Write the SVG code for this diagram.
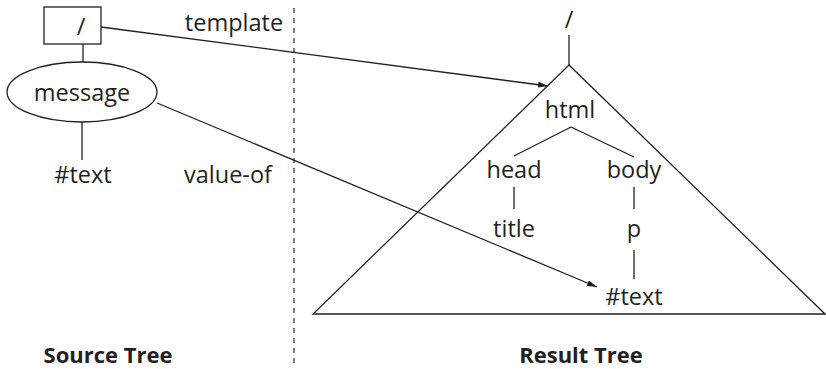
<svg xmlns="http://www.w3.org/2000/svg" width="826" height="369" viewBox="0 0 826 369">
<defs>
<style>
text{font-family:"Open Sans","Noto Sans","DejaVu Sans",sans-serif;font-size:23.5px;fill:#231f20;text-anchor:middle}
.b{font-weight:bold;font-size:22px}
.s{stroke:#231f20;stroke-width:1.3;fill:none}
.d{stroke:#555;stroke-width:1.5;stroke-dasharray:5 5;fill:none}
</style>
<marker id="ah" viewBox="0 0 10 6" refX="10" refY="3" markerWidth="10" markerHeight="6" markerUnits="userSpaceOnUse" orient="auto">
<path d="M0,0 L10,3 L0,6 Z" fill="#231f20"/>
</marker>
</defs>
<rect width="826" height="369" fill="#fff"/>
<g id="divider"><line class="d" x1="294" y1="8" x2="294" y2="366"/></g>
<g id="src-root"><rect class="s" x="44" y="7" width="57" height="37"/><text x="81" y="35">/</text></g>
<g id="src-message"><ellipse class="s" cx="82" cy="92" rx="75" ry="30"/><text x="82" y="101">message</text></g>
<g id="src-text"><text x="83" y="183">#text</text></g>
<g id="res-root"><text x="569" y="28">/</text></g>
<g id="res-triangle"><path class="s" d="M569,65 L313,314 L825,314 Z"/></g>
<g id="res-html"><text x="570" y="118">html</text></g>
<g id="res-head"><text x="514" y="178">head</text></g>
<g id="res-body"><text x="634" y="178">body</text></g>
<g id="res-title"><text x="514" y="237">title</text></g>
<g id="res-p"><text x="634" y="237">p</text></g>
<g id="res-text"><text x="634" y="305">#text</text></g>
<g id="labels">
<text x="234" y="31">template</text>
<text x="228" y="183">value-of</text>
<text class="b" x="108" y="363">Source Tree</text>
<text class="b" x="581" y="363">Result Tree</text>
</g>
<g id="connectors">
<line class="s" x1="83" y1="44" x2="83" y2="62"/>
<line class="s" x1="82" y1="122" x2="82" y2="160"/>
<line class="s" x1="569" y1="35" x2="569" y2="65"/>
<line class="s" x1="571" y1="127" x2="514" y2="156"/>
<line class="s" x1="571" y1="127" x2="634" y2="157"/>
<line class="s" x1="514" y1="187" x2="514" y2="209"/>
<line class="s" x1="634" y1="187" x2="634" y2="209"/>
<line class="s" x1="634" y1="250" x2="634" y2="279"/>
<line class="s" x1="101" y1="27" x2="548" y2="86" marker-end="url(#ah)"/>
<line class="s" x1="157" y1="103" x2="597" y2="287" marker-end="url(#ah)"/>
</g>
</svg>
